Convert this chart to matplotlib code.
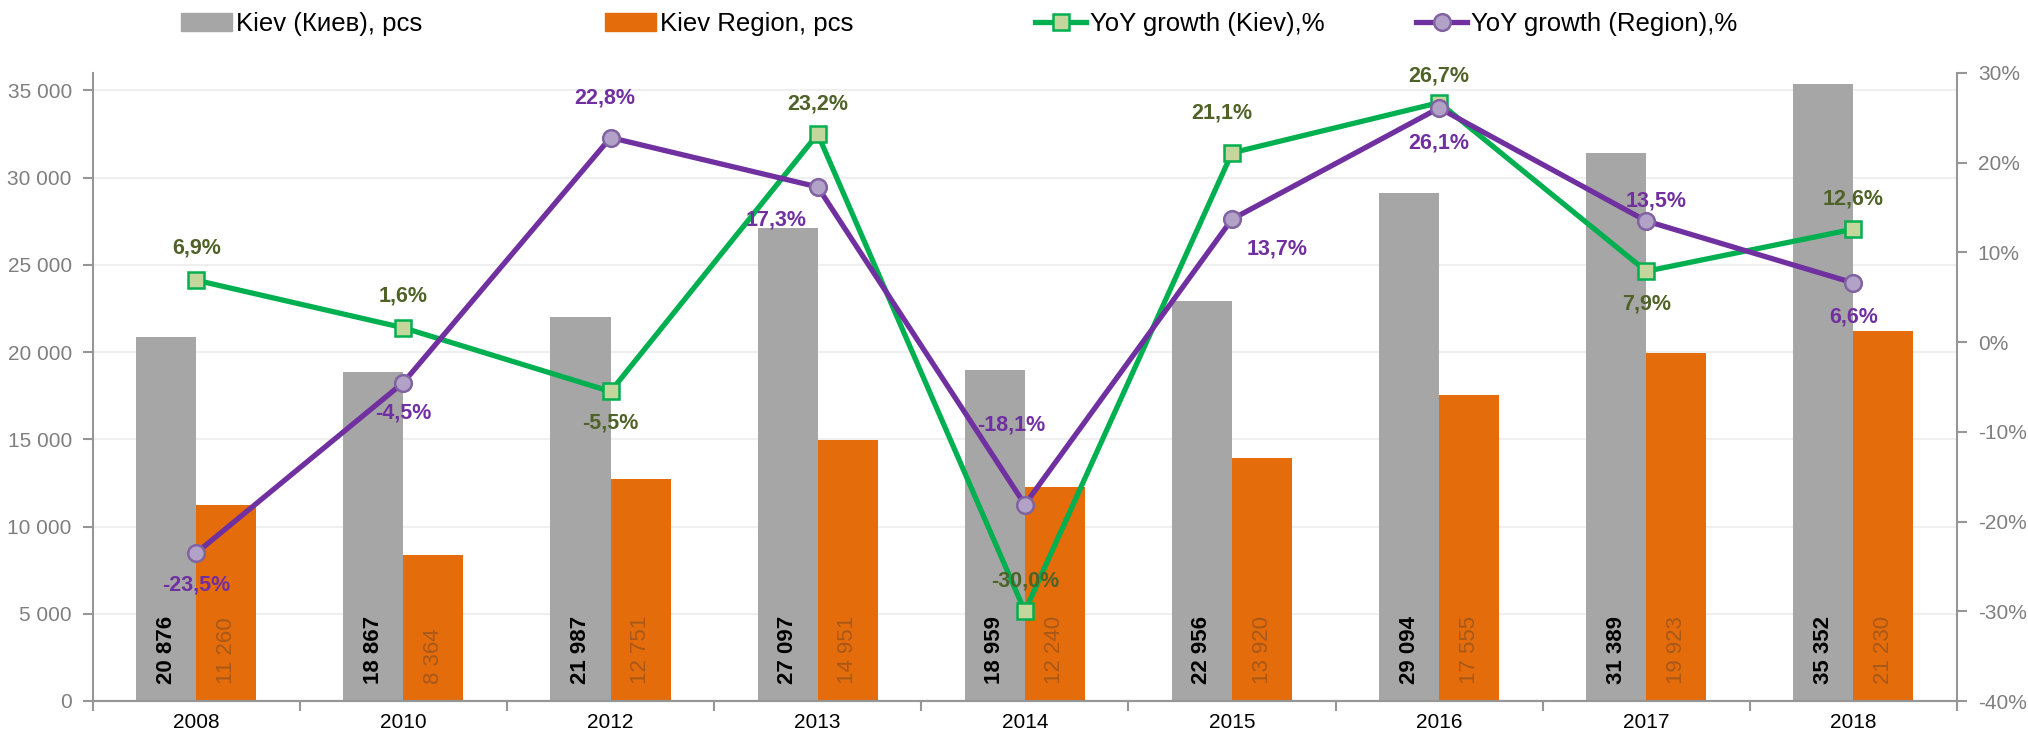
import numpy as np
import matplotlib.pyplot as plt
from matplotlib.patches import Patch
from matplotlib.lines import Line2D
from matplotlib.ticker import FuncFormatter, FixedLocator

plt.rcParams['font.family'] = ['Liberation Sans', 'DejaVu Sans']

years = ['2008', '2010', '2012', '2013', '2014', '2015', '2016', '2017', '2018']
kiev = [20876, 18867, 21987, 27097, 18959, 22956, 29094, 31389, 35352]
region = [11260, 8364, 12751, 14951, 12240, 13920, 17555, 19923, 21230]
yoy_kiev = [6.9, 1.6, -5.5, 23.2, -30.0, 21.1, 26.7, 7.9, 12.6]
yoy_region = [-23.5, -4.5, 22.8, 17.3, -18.1, 13.7, 26.1, 13.5, 6.6]

# label offsets (px) for the growth labels
off_kiev = [(0, 32), (0, 32), (0, -32), (0, 30), (0, 30), (-10, 40), (0, 27), (0, -33), (0, 30)]
off_region = [(0, -32), (0, -30), (-6, 40), (-42, -33), (-14, 80), (45, -30), (0, -35), (10, 20), (0, -34)]

c_gray = '#a6a6a6'
c_orange = '#e46c0a'
c_green = '#00b050'
c_purple = '#7030a0'
c_axis = '#969696'

fig = plt.figure(figsize=(20.28, 7.35), dpi=100)
ax = fig.add_axes([92.7 / 2028, 1 - 701 / 735, (1957 - 92.7) / 2028, (701 - 73) / 735])
ax2 = ax.twinx()

x = np.arange(len(years))
w = 0.29
ax.bar(x - w / 2, kiev, w, color=c_gray, zorder=2)
ax.bar(x + w / 2, region, w, color=c_orange, zorder=2)

for i in range(len(years)):
    ax.annotate(f"{kiev[i]:,}".replace(',', ' '), (x[i] - w / 2, 0), xytext=(0, 12),
                textcoords='offset points', rotation=90, ha='center', va='bottom',
                fontsize=16, fontweight='bold', color='black', zorder=3)
    ax.annotate(f"{region[i]:,}".replace(',', ' '), (x[i] + w / 2, 0), xytext=(0, 12),
                textcoords='offset points', rotation=90, ha='center', va='bottom',
                fontsize=16, color='#a8591a', zorder=3)

ax.set_ylim(0, 36000)
ax.set_xlim(-0.5, len(years) - 0.5)
ax.yaxis.set_major_locator(FixedLocator(np.arange(0, 35001, 5000)))
ax.yaxis.set_major_formatter(FuncFormatter(lambda v, p: f"{int(v):,}".replace(',', ' ')))
ax.grid(axis='y', color='#efefef', linewidth=1.5, zorder=0)
ax.set_axisbelow(True)

ax.set_xticks(x)
ax.set_xticklabels(years, fontsize=15)
ax.set_xticks(np.arange(-0.5, len(years), 1), minor=True)
ax.tick_params(axis='x', which='major', length=0, pad=9)
ax.tick_params(axis='x', which='minor', length=7, color=c_axis, width=1.5)
ax.tick_params(axis='y', length=7, color=c_axis, width=1.5, labelsize=15, labelcolor='#7f7f7f', pad=8)

ax2.plot(x, yoy_kiev, color=c_green, lw=3.8, marker='s', ms=12, mfc='#c3d69b', mec=c_green,
         mew=1.8, zorder=5)
ax2.plot(x, yoy_region, color=c_purple, lw=3.8, marker='o', ms=12, mfc='#b3a2c7', mec='#8064a2',
         mew=1.8, zorder=6)
ax2.set_ylim(-40, 30)
ax2.yaxis.set_major_locator(FixedLocator(np.arange(-40, 31, 10)))
ax2.yaxis.set_major_formatter(FuncFormatter(lambda v, p: f"{int(v)}%"))
ax2.tick_params(axis='y', length=7, color=c_axis, width=1.5, labelsize=15, labelcolor='#7f7f7f', pad=8)

for i in range(len(years)):
    ax2.annotate(f"{yoy_kiev[i]:.1f}%".replace('.', ','), (x[i], yoy_kiev[i]),
                 xytext=(off_kiev[i][0] * 0.72, off_kiev[i][1] * 0.72), textcoords='offset points',
                 ha='center', va='center', fontsize=15.5, fontweight='bold', color='#4f6228', zorder=7)
    ax2.annotate(f"{yoy_region[i]:.1f}%".replace('.', ','), (x[i], yoy_region[i]),
                 xytext=(off_region[i][0] * 0.72, off_region[i][1] * 0.72), textcoords='offset points',
                 ha='center', va='center', fontsize=15.5, fontweight='bold', color=c_purple, zorder=7)

for a in (ax, ax2):
    a.spines['top'].set_visible(False)
    for s in ('left', 'right', 'bottom'):
        a.spines[s].set_color(c_axis)
        a.spines[s].set_linewidth(1.5)
ax2.spines['left'].set_visible(False)
ax.spines['right'].set_visible(False)

# legend, one entry per slot along the top
handles = [
    Patch(color=c_gray, label='Kiev (Киев), pcs'),
    Patch(color=c_orange, label='Kiev Region, pcs'),
    Line2D([], [], color=c_green, lw=3.8, marker='s', ms=12, mfc='#c3d69b', mec=c_green, mew=1.8,
           label='YoY growth (Kiev),%'),
    Line2D([], [], color=c_purple, lw=3.8, marker='o', ms=12, mfc='#b3a2c7', mec='#8064a2', mew=1.8,
           label='YoY growth (Region),%'),
]
starts = [181, 605, 1035, 1416]
for h, sx in zip(handles, starts):
    fig.legend(handles=[h], loc='center left', bbox_to_anchor=(sx / 2028, 1 - 24 / 735),
               frameon=False, borderpad=0, borderaxespad=0, handlelength=2.0, handletextpad=0.15,
               prop={'family': ['Liberation Sans Narrow', 'Liberation Sans'], 'size': 18.5})

fig.savefig('out.png', dpi=100)
